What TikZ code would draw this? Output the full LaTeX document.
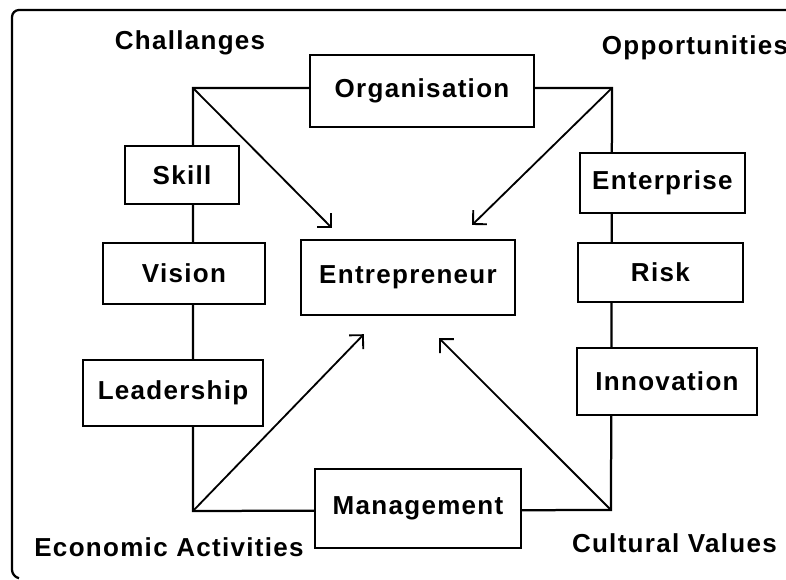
\documentclass[tikz,border=0pt]{standalone}
\usepackage{fontspec}
\setmainfont{Liberation Sans}[LetterSpace=5]
\usetikzlibrary{arrows.meta,calc}

\begin{document}
\begin{tikzpicture}[
    box/.style={rectangle, draw=black, line width=1.6pt, fill=white, inner sep=0pt, font=\bfseries\fontsize{18.5}{22}\selectfont},
    caption/.style={font=\bfseries\fontsize{18.5}{22}\selectfont},
    link/.style={line width=1.6pt},
    arrow/.style={-{Straight Barb[length=7pt,width=14pt]}, line width=1.3pt}
]
    \useasboundingbox (0,0) rectangle (19.65,14.5);
    % page frame (top and left edge only)
    \draw[link, rounded corners=5pt] (19.65,14.25) -- (0.3,14.25) -- (0.3,0.08) -- (0.45,0.05);

    % corners of the loop
    \coordinate (tl) at (4.825,12.3);
    \coordinate (tr) at (15.3,12.3);
    \coordinate (br) at (15.275,1.75);
    \coordinate (bl) at (4.825,1.725);
    \draw[link] (tl) -- (tr) -- (br) -- (bl) -- cycle;

    \node[box, minimum width=5.6cm, minimum height=1.8cm] (org) at (10.55,12.225) {Organisation};
    \node[box, minimum width=2.85cm, minimum height=1.45cm] (skill) at (4.55,10.125) {Skill};
    \node[box, minimum width=4.05cm, minimum height=1.53cm] (vision) at (4.6,7.66) {Vision};
    \node[box, minimum width=4.5cm, minimum height=1.65cm] (leader) at (4.325,4.675) {Leadership};
    \node[box, minimum width=5.35cm, minimum height=1.875cm] (entre) at (10.2,7.56) {Entrepreneur};
    \node[box, minimum width=5.15cm, minimum height=1.975cm] (mgmt) at (10.45,1.79) {Management};
    \node[box, minimum width=4.125cm, minimum height=1.5cm] (enter) at (16.56,9.925) {Enterprise};
    \node[box, minimum width=4.125cm, minimum height=1.475cm] (risk) at (16.51,7.69) {Risk};
    \node[box, minimum width=4.5cm, minimum height=1.675cm] (innov) at (16.675,4.96) {Innovation};

    \node[caption] (chal) at (4.75,13.425) {Challanges};
    \node[caption] (oppo) at (17.375,13.3) {Opportunities};
    \node[caption] (econ) at (4.225,0.825) {Economic Activities};
    \node[caption] (cult) at (16.86,0.925) {Cultural Values};

    % arrows into the centre
    \draw[arrow] (tl) -- ($(entre.north west)+(0.8,0.275)$);
    \draw[arrow] (tr) -- ($(entre.north east)+(-1.1,0.35)$);
    \draw[arrow] (bl) -- ($(entre.south west)+(1.6,-0.45)$);
    \draw[arrow] (br) -- ($(entre.south east)+(-1.925,-0.55)$);
\end{tikzpicture}
\end{document}
